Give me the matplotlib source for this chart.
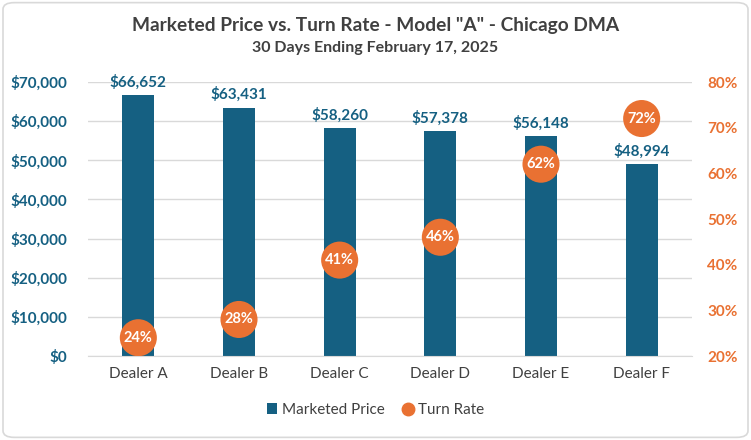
import matplotlib.pyplot as plt
from matplotlib.patches import FancyBboxPatch
from matplotlib.lines import Line2D
from matplotlib.patches import Patch

plt.rcParams['font.family'] = ['Lato', 'DejaVu Sans']

dealers = ['Dealer A', 'Dealer B', 'Dealer C', 'Dealer D', 'Dealer E', 'Dealer F']
price = [66652, 63431, 58260, 57378, 56148, 48994]
turn_rate = [0.24, 0.28, 0.41, 0.46, 0.62, 0.72]

blue = '#156082'
orange = '#E97132'
grey = '#404040'

fig = plt.figure(figsize=(7.51, 4.40), dpi=100)
fig.patches.append(FancyBboxPatch((0.004, 0.006), 0.992, 0.988, boxstyle='round,pad=0,rounding_size=0.015',
                                  transform=fig.transFigure, facecolor='none', edgecolor='#d9d9d9', lw=1.2, zorder=0))

ax = fig.add_axes([88 / 751, 1 - 356 / 440, (692 - 88) / 751, (356 - 82) / 440])
ax.set_facecolor('none')
x = range(len(dealers))
ax.bar(x, price, width=0.32, color=blue, zorder=2)
for xi, p in zip(x, price):
    ax.annotate(f'${p:,.0f}', (xi, p), xytext=(0, 4), textcoords='offset points',
                ha='center', va='bottom', color=blue, fontsize=11, fontweight='bold')

ax.set_ylim(0, 70000)
ax.set_xlim(-0.5, len(dealers) - 0.5)
ax.set_yticks(range(0, 70001, 10000))
ax.set_yticklabels([f'${v:,.0f}' for v in range(0, 70001, 10000)], color=blue, fontweight='bold', fontsize=11)
ax.set_xticks(list(x))
ax.set_xticklabels(dealers, color=grey, fontsize=11)
ax.tick_params(axis='both', length=0)
ax.tick_params(axis='y', pad=15)
ax.tick_params(axis='x', pad=8)
ax.grid(axis='y', color='#d9d9d9', lw=1, zorder=0)
for s in ax.spines.values():
    s.set_visible(False)
ax.spines['bottom'].set_visible(True)
ax.spines['bottom'].set_color('#d9d9d9')

ax2 = ax.twinx()
ax2.set_ylim(0.2, 0.8)
ax2.set_yticks([0.2, 0.3, 0.4, 0.5, 0.6, 0.7, 0.8])
ax2.set_yticklabels([f'{v:.0%}' for v in [0.2, 0.3, 0.4, 0.5, 0.6, 0.7, 0.8]], color=orange, fontweight='bold', fontsize=11)
ax2.tick_params(axis='y', length=0, pad=11)
for s in ax2.spines.values():
    s.set_visible(False)
ax2.scatter(list(x), turn_rate, s=37 ** 2 * 0.52, color=orange, edgecolors='none', zorder=3)
for xi, t in zip(x, turn_rate):
    ax2.text(xi, t, f'{t:.0%}', ha='center', va='center', color='white', fontsize=10.5, fontweight='bold', zorder=4)

fig.text(0.5, 1 - 25 / 440, 'Marketed Price vs. Turn Rate - Model "A" - Chicago DMA', ha='center', va='center',
         fontsize=13.8, fontweight='bold', color=grey)
fig.text(0.5, 1 - 48 / 440, '30 Days Ending February 17, 2025', ha='center', va='center',
         fontsize=11.5, fontweight='bold', color=grey)

handles = [Patch(facecolor=blue, label='Marketed Price'),
           Line2D([], [], marker='o', ls='', color=orange, markersize=9, label='Turn Rate')]
fig.legend(handles=handles, loc='center', bbox_to_anchor=(0.5, 1 - 410 / 440), ncol=2, frameon=False,
           fontsize=11, labelcolor=grey, handlelength=0.7, handleheight=0.7, handletextpad=0.3, columnspacing=1.2)

fig.savefig('out.png', dpi=100)
